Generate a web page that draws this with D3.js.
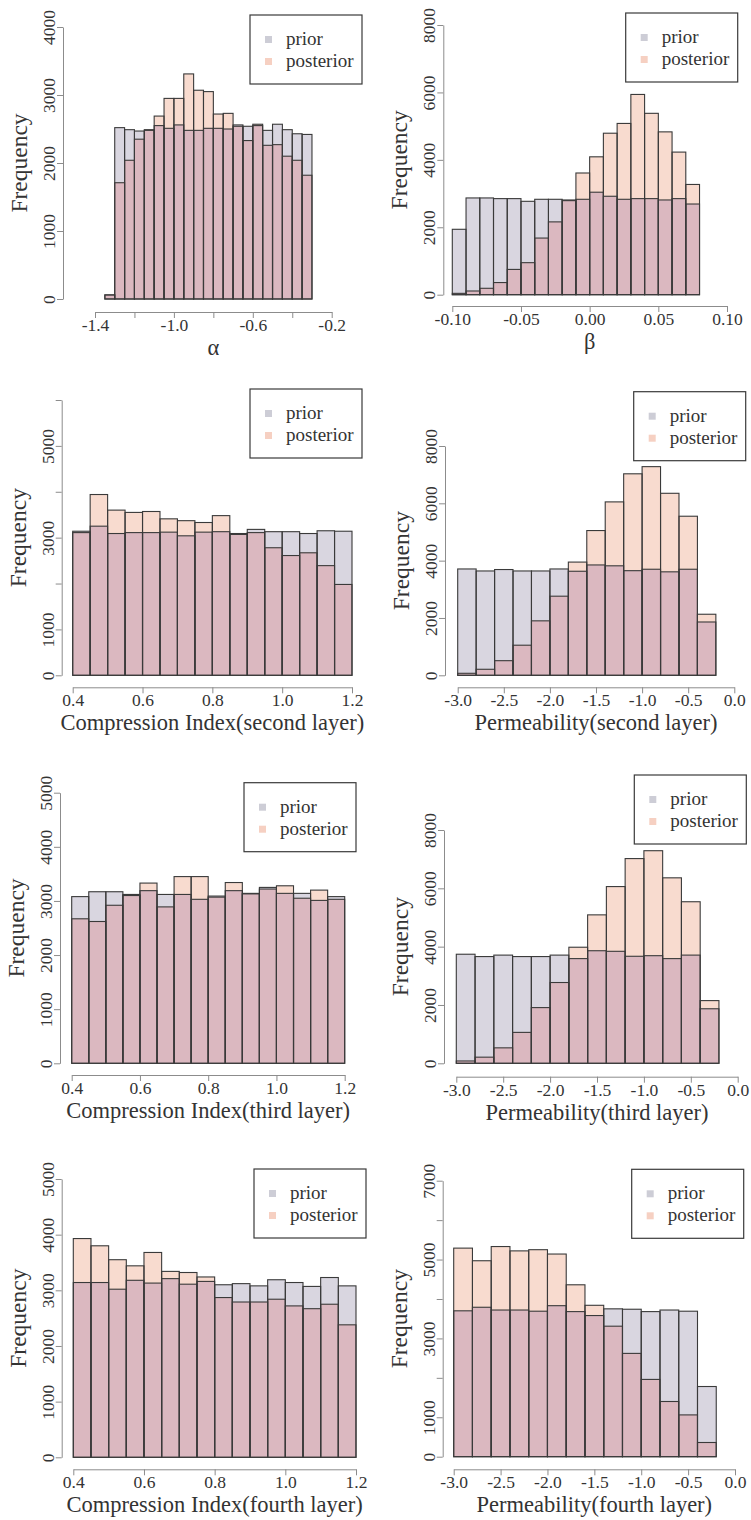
<!DOCTYPE html>
<html>
<head>
<meta charset="utf-8">
<script src="https://cdn.jsdelivr.net/npm/d3@7"></script>
<style>
  body { margin: 0; background: #fff; }
  svg text { font-family: "Liberation Serif", "Times New Roman", serif; }
</style>
</head>
<body>
<div id="chart"></div>
<script>
// bin edges
const alphaEdges = [-1.35, -1.30, -1.25, -1.20, -1.15, -1.10, -1.05, -1.00, -0.95, -0.90, -0.85,
  -0.80, -0.75, -0.70, -0.65, -0.60, -0.55, -0.50, -0.45, -0.40, -0.35, -0.30];
const betaEdges = [-0.10, -0.09, -0.08, -0.07, -0.06, -0.05, -0.04, -0.03, -0.02, -0.01,
  0.00, 0.01, 0.02, 0.03, 0.04, 0.05, 0.06, 0.07, 0.08];
const ciEdges = [0.40, 0.45, 0.50, 0.55, 0.60, 0.65, 0.70, 0.75, 0.80, 0.85, 0.90, 0.95,
  1.00, 1.05, 1.10, 1.15, 1.20];
const permEdges = [-3.0, -2.8, -2.6, -2.4, -2.2, -2.0, -1.8, -1.6, -1.4, -1.2, -1.0, -0.8, -0.6, -0.4, -0.2];

// frecuencias prior / posterior
const alphaPrior = [60, 2520, 2490, 2470, 2480, 2550, 2510, 2560, 2480, 2480, 2510, 2510, 2500, 2560, 2540, 2550, 2480, 2570, 2490, 2430, 2420];
const alphaPost = [60, 1710, 2040, 2350, 2490, 2690, 2950, 2950, 3310, 3070, 3050, 2720, 2730, 2540, 2330, 2570, 2260, 2270, 2100, 2040, 1820];
const betaPrior = [1940, 2870, 2870, 2850, 2850, 2770, 2830, 2830, 2810, 2830, 3040, 2920, 2830, 2850, 2850, 2810, 2850, 2690];
const betaPost = [40, 110, 190, 360, 750, 950, 1680, 2160, 2790, 3610, 4090, 4790, 5080, 5940, 5380, 4830, 4230, 3270];
const ci2Prior = [3140, 3250, 3090, 3110, 3110, 3120, 3040, 3120, 3130, 3090, 3180, 3130, 3130, 3090, 3150, 3140];
const ci2Post = [3110, 3940, 3600, 3550, 3570, 3410, 3370, 3330, 3480, 3070, 3110, 2780, 2610, 2670, 2390, 1980];
const perm2Prior = [3710, 3640, 3690, 3640, 3640, 3710, 3630, 3850, 3820, 3650, 3700, 3610, 3700, 1860];
const perm2Post = [70, 210, 510, 1050, 1900, 2760, 3950, 5050, 6050, 7030, 7280, 6350, 5550, 2130];
const ci3Prior = [3080, 3170, 3170, 3100, 3190, 3120, 3120, 3030, 3090, 3190, 3140, 3250, 3140, 3140, 3010, 3080];
const ci3Post = [2670, 2620, 2920, 3120, 3330, 2890, 3450, 3450, 3070, 3340, 3130, 3220, 3280, 3050, 3200, 3030];
const perm3Prior = [3740, 3660, 3710, 3660, 3660, 3710, 3590, 3860, 3840, 3670, 3690, 3590, 3710, 1870];
const perm3Post = [80, 210, 530, 1060, 1910, 2770, 3980, 5090, 6060, 7020, 7290, 6360, 5540, 2150];
const ci4Prior = [3140, 3140, 3020, 3180, 3130, 3210, 3110, 3160, 3100, 3120, 3080, 3190, 3140, 3070, 3230, 3080];
const ci4Post = [3930, 3800, 3550, 3440, 3680, 3340, 3320, 3240, 2870, 2790, 2790, 2840, 2720, 2670, 2750, 2380];
const perm4Prior = [3700, 3790, 3720, 3720, 3690, 3830, 3680, 3580, 3750, 3740, 3680, 3720, 3690, 1780];
const perm4Post = [5290, 4970, 5330, 5220, 5250, 5140, 4360, 3840, 3310, 2620, 1960, 1400, 1060, 360];

// ticks
const alphaTicks = [-1.4, -1.2, -1.0, -0.8, -0.6, -0.4, -0.2];
const alphaTickLabels = [-1.4, -1.0, -0.6, -0.2];
const betaTicks = [-0.10, -0.05, 0.00, 0.05, 0.10];
const ciTicks = [0.4, 0.6, 0.8, 1.0, 1.2];
const permTicks = [-3.0, -2.5, -2.0, -1.5, -1.0, -0.5, 0.0];
const freq4000 = [0, 1000, 2000, 3000, 4000];
const freq5000 = [0, 1000, 2000, 3000, 4000, 5000];
const freq6000 = [0, 1000, 2000, 3000, 4000, 5000, 6000];
const freq6000Labels = [0, 1000, 3000, 5000];
const freq7000 = [0, 1000, 2000, 3000, 4000, 5000, 6000, 7000];
const freq7000Labels = [0, 1000, 3000, 5000, 7000];
const freq8000 = [0, 2000, 4000, 6000, 8000];

const legendLabels = ["prior", "posterior"];

// colores
const colPrior = "#d9d6e0";
const colPost = "#f8dbcf";
const colBoth = "#dbb8c0";
const colLine = "#3a3a3a";
const colAxis = "#8c8c8c";
const colText = "#333";
const FONT = "Liberation Serif, Times New Roman, serif";

const panels = [
  { edges: alphaEdges, prior: alphaPrior, post: alphaPost, xTicks: alphaTicks, xLabels: alphaTickLabels, dec: 1,
    yTicks: freq4000, yLabels: freq4000, title: "α",
    lay: { x0: 95, x1: 331.7, yb: 299, yt: 27, ax: 63, ay: 312, lx: 250, ly: 15 } },
  { edges: betaEdges, prior: betaPrior, post: betaPost, xTicks: betaTicks, xLabels: betaTicks, dec: 2,
    yTicks: freq8000, yLabels: freq8000, title: "β",
    lay: { x0: 452.3, x1: 727, yb: 294.7, yt: 25, ax: 443.3, ay: 306, lx: 625.7, ly: 13 } },
  { edges: ciEdges, prior: ci2Prior, post: ci2Post, xTicks: ciTicks, xLabels: ciTicks, dec: 1,
    yTicks: freq6000, yLabels: freq6000Labels, title: "Compression Index(second layer)",
    lay: { x0: 72.7, x1: 352, yb: 675.3, yt: 400, ax: 61.7, ay: 687.3, lx: 250, ly: 389 } },
  { edges: permEdges, prior: perm2Prior, post: perm2Post, xTicks: permTicks, xLabels: permTicks, dec: 1,
    yTicks: freq8000, yLabels: freq8000, title: "Permeability(second layer)",
    lay: { x0: 457.7, x1: 734.3, yb: 675.3, yt: 446, ax: 445, ay: 687.3, lx: 633.7, ly: 391.7 } },
  { edges: ciEdges, prior: ci3Prior, post: ci3Post, xTicks: ciTicks, xLabels: ciTicks, dec: 1,
    yTicks: freq5000, yLabels: freq5000, title: "Compression Index(third layer)",
    lay: { x0: 71.7, x1: 344.7, yb: 1063.3, yt: 792.7, ax: 60, ay: 1075, lx: 244, ly: 782.7 } },
  { edges: permEdges, prior: perm3Prior, post: perm3Post, xTicks: permTicks, xLabels: permTicks, dec: 1,
    yTicks: freq8000, yLabels: freq8000, title: "Permeability(third layer)",
    lay: { x0: 456.3, x1: 737.7, yb: 1063.3, yt: 830, ax: 444, ay: 1076.7, lx: 634.3, ly: 775 } },
  { edges: ciEdges, prior: ci4Prior, post: ci4Post, xTicks: ciTicks, xLabels: ciTicks, dec: 1,
    yTicks: freq5000, yLabels: freq5000, title: "Compression Index(fourth layer)",
    lay: { x0: 73.3, x1: 356, yb: 1457.3, yt: 1179, ax: 61.7, ay: 1469.3, lx: 254, ly: 1169 } },
  { edges: permEdges, prior: perm4Prior, post: perm4Post, xTicks: permTicks, xLabels: permTicks, dec: 1,
    yTicks: freq7000, yLabels: freq7000Labels, title: "Permeability(fourth layer)",
    lay: { x0: 453.7, x1: 735, yb: 1456.7, yt: 1180.7, ax: 442.7, ay: 1469.3, lx: 631.7, ly: 1169.3 } }
];

const svg = d3.select("#chart").append("svg")
  .attr("width", 751)
  .attr("height", 1520)
  .attr("font-family", FONT);

const drawPanel = (p) => {
  const L = p.lay;
  const x = d3.scaleLinear().domain([p.xTicks[0], p.xTicks[p.xTicks.length - 1]]).range([L.x0, L.x1]);
  const y = d3.scaleLinear().domain([0, p.yTicks[p.yTicks.length - 1]]).range([L.yb, L.yt]);
  const g = svg.append("g");

  const bins = p.prior.map((v, i) => ({ a: p.edges[i], b: p.edges[i + 1], prior: v, post: p.post[i] }));

  // rellenos: prior, posterior y la zona comun
  const fillBars = (key, color) => {
    g.append("g").selectAll("rect").data(bins).join("rect")
      .attr("x", d => x(d.a))
      .attr("width", d => x(d.b) - x(d.a))
      .attr("y", d => y(key(d)))
      .attr("height", d => y(0) - y(key(d)))
      .attr("fill", color);
  };
  fillBars(d => d.prior, colPrior);
  fillBars(d => d.post, colPost);
  fillBars(d => Math.min(d.prior, d.post), colBoth);

  // bordes de los dos histogramas
  [d => d.prior, d => d.post].forEach(key => {
    g.append("g").selectAll("rect").data(bins).join("rect")
      .attr("x", d => x(d.a))
      .attr("width", d => x(d.b) - x(d.a))
      .attr("y", d => y(key(d)))
      .attr("height", d => y(0) - y(key(d)))
      .attr("fill", "none")
      .attr("stroke", colLine)
      .attr("stroke-width", 1.1);
  });

  // ejes
  const xAxis = g.append("g")
    .attr("transform", `translate(0,${L.ay})`)
    .call(d3.axisBottom(x).tickValues(p.xTicks).tickSize(6).tickSizeOuter(0)
      .tickFormat(d => p.xLabels.includes(d) ? d.toFixed(p.dec) : ""));
  xAxis.attr("font-family", FONT).attr("font-size", 17.5);
  xAxis.selectAll("text").attr("y", 19).attr("dy", 0).attr("fill", colText);

  const yAxis = g.append("g")
    .attr("transform", `translate(${L.ax},0)`)
    .call(d3.axisLeft(y).tickValues(p.yTicks).tickSize(6).tickSizeOuter(0)
      .tickFormat(d => p.yLabels.includes(d) ? String(d) : ""));
  yAxis.attr("font-family", FONT).attr("font-size", 17.5);
  yAxis.selectAll("text")
    .attr("transform", "rotate(-90)")
    .attr("x", 0).attr("y", -8).attr("dy", 0)
    .attr("text-anchor", "middle")
    .attr("fill", colText);

  [xAxis, yAxis].forEach(a => {
    a.select(".domain").attr("stroke", colAxis);
    a.selectAll(".tick line").attr("stroke", colAxis);
  });

  // titulos de ejes
  g.append("text")
    .attr("x", (x.range()[0] + x.range()[1]) / 2)
    .attr("y", L.ay + 43)
    .attr("text-anchor", "middle")
    .attr("font-size", 22.5)
    .attr("fill", colText)
    .text(p.title);

  g.append("text")
    .attr("transform", `translate(${L.ax - 36},${(y.range()[0] + y.range()[1]) / 2}) rotate(-90)`)
    .attr("text-anchor", "middle")
    .attr("font-size", 23.5)
    .attr("fill", colText)
    .text("Frequency");

  // leyenda
  const lg = g.append("g").attr("transform", `translate(${L.lx},${L.ly})`);
  lg.append("rect")
    .attr("width", 112).attr("height", 69)
    .attr("fill", "#fff").attr("stroke", colLine).attr("stroke-width", 1.2);
  lg.selectAll(".sw").data(legendLabels).join("rect")
    .attr("class", "sw")
    .attr("x", 15).attr("y", (d, i) => 21 + i * 22)
    .attr("width", 7).attr("height", 7)
    .attr("fill", (d, i) => i === 0 ? "#cdcdd6" : "#f6d0c2");
  lg.selectAll(".lt").data(legendLabels).join("text")
    .attr("class", "lt")
    .attr("x", 36).attr("y", (d, i) => 30 + i * 22)
    .attr("font-size", 19)
    .attr("fill", colText)
    .text(d => d);
};

panels.forEach(drawPanel);
</script>
</body>
</html>
